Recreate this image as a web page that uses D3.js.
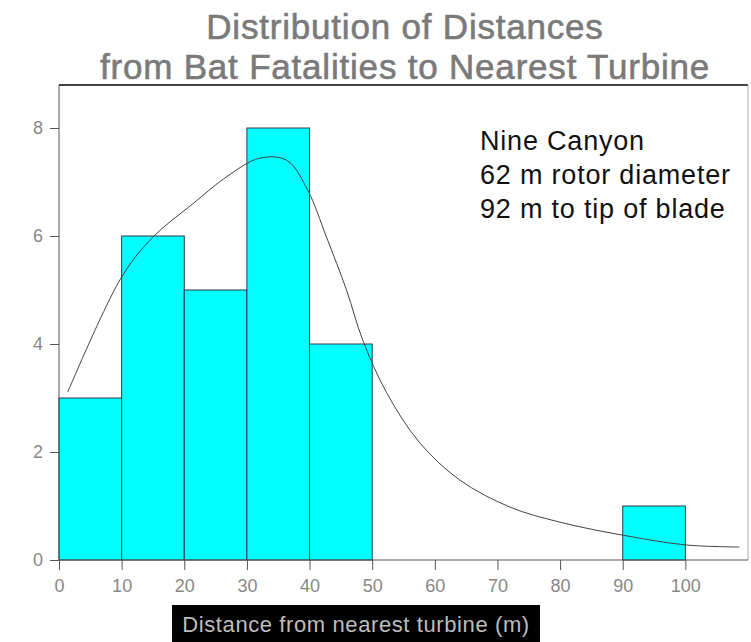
<!DOCTYPE html>
<html lang="en">
<head>
<meta charset="UTF-8">
<title>Bat fatalities distance histogram</title>
<script src="https://d3js.org/d3.v7.min.js"></script>
<style>
  body { margin: 0; background: #fff; }
</style>
</head>
<body>
<svg id="chart" width="751" height="642"></svg>
<script>
// histogram bins (distance in m) and counts
var binStart = [0, 10, 20, 30, 40, 90];
var binEnd   = [10, 20, 30, 40, 50, 100];
var counts   = [3, 6, 5, 8, 4, 1];

// fitted curve
var curveX = [1.4, 10, 15, 21.4, 26.8, 32, 36.4, 39.7, 42.7, 45.9, 48.5, 52.3, 57.6, 64, 72, 80, 90, 100, 108.6];
var curveY = [3.11, 5.24, 5.98, 6.6, 7.1, 7.44, 7.4, 6.85, 5.98, 5.0, 4.07, 3.1, 2.17, 1.48, 0.98, 0.70, 0.46, 0.28, 0.24];

var xTicks = [0, 10, 20, 30, 40, 50, 60, 70, 80, 90, 100];
var yTicks = [0, 2, 4, 6, 8];

var titleLines = ["Distribution of Distances", "from Bat Fatalities to Nearest Turbine"];
var noteLines = ["Nine Canyon", "62 m rotor diameter", "92 m to tip of blade"];
var xLabel = "Distance from nearest turbine (m)";

var svg = d3.select("#chart");

var plotLeft = 59, plotRight = 748, plotTop = 85, plotBottom = 560;

var x = d3.scaleLinear().domain([0, 110]).range([plotLeft, plotRight]);
var y = d3.scaleLinear().domain([0, 8]).range([plotBottom, 128]);

//title
svg.selectAll(".title")
  .data(titleLines)
  .enter()
  .append("text")
  .attr("class", "title")
  .attr("x", 405)
  .attr("y", function(d, i) { return 39 + i * 40; })
  .attr("text-anchor", "middle")
  .attr("font-family", "Liberation Sans, Arial, sans-serif")
  .attr("font-size", "35px")
  .attr("letter-spacing", "0.8px")
  .attr("fill", "#7a7a7a")
  .attr("stroke", "#7a7a7a")
  .attr("stroke-width", 0.6)
  .text(function(d) { return d; });

//frame
svg.append("line")
  .attr("x1", plotLeft).attr("x2", plotRight)
  .attr("y1", plotTop).attr("y2", plotTop)
  .attr("stroke", "#444").attr("stroke-width", 2);
svg.append("line")
  .attr("x1", plotRight).attr("x2", plotRight)
  .attr("y1", plotTop).attr("y2", plotBottom)
  .attr("stroke", "#aaa").attr("stroke-width", 1);

//bars
svg.selectAll(".bar")
  .data(counts)
  .enter()
  .append("rect")
  .attr("class", "bar")
  .attr("x", function(d, i) { return x(binStart[i]); })
  .attr("y", function(d) { return y(d); })
  .attr("width", function(d, i) { return x(binEnd[i]) - x(binStart[i]); })
  .attr("height", function(d) { return plotBottom - y(d); })
  .attr("fill", "#00ffff")
  .attr("stroke", "#2a3a4a")
  .attr("stroke-width", 1);

//curve
var line = d3.line()
  .x(function(d, i) { return x(curveX[i]); })
  .y(function(d) { return y(d); })
  .curve(d3.curveCatmullRom.alpha(0.5));

svg.append("path")
  .datum(curveY)
  .attr("d", line)
  .attr("fill", "none")
  .attr("stroke", "#444")
  .attr("stroke-width", 1);

//y axis
var yAxis = svg.append("g")
  .attr("transform", "translate(" + plotLeft + ",0)")
  .call(d3.axisLeft(y).tickValues(yTicks).tickSize(9).tickPadding(7));
yAxis.select(".domain").attr("d", "M0," + plotTop + "V" + plotBottom).attr("stroke", "#555");

//x axis
var xAxis = svg.append("g")
  .attr("transform", "translate(0," + plotBottom + ")")
  .call(d3.axisBottom(x).tickValues(xTicks).tickSize(10).tickPadding(9));
xAxis.select(".domain").attr("d", "M" + plotLeft + ",0H" + plotRight).attr("stroke", "#555");

svg.selectAll(".tick line").attr("stroke", "#555");
svg.selectAll(".tick text")
  .attr("fill", "#888")
  .attr("font-family", "Liberation Sans Narrow, Liberation Sans, Arial, sans-serif")
  .attr("font-size", "18px");

//note
svg.selectAll(".note")
  .data(noteLines)
  .enter()
  .append("text")
  .attr("class", "note")
  .attr("x", 480)
  .attr("y", function(d, i) { return 150 + i * 34; })
  .attr("font-family", "Liberation Sans, Arial, sans-serif")
  .attr("font-size", "27px")
  .attr("letter-spacing", "0.8px")
  .attr("fill", "#111")
  .text(function(d) { return d; });

//x label box
svg.append("rect")
  .attr("x", 172).attr("y", 605)
  .attr("width", 368).attr("height", 37)
  .attr("fill", "#000");
svg.append("text")
  .attr("x", 356)
  .attr("y", 632)
  .attr("text-anchor", "middle")
  .attr("font-family", "Liberation Sans, Arial, sans-serif")
  .attr("font-size", "22px")
  .attr("letter-spacing", "0.6px")
  .attr("fill", "#bdbdbd")
  .text(xLabel);
</script>
</body>
</html>
